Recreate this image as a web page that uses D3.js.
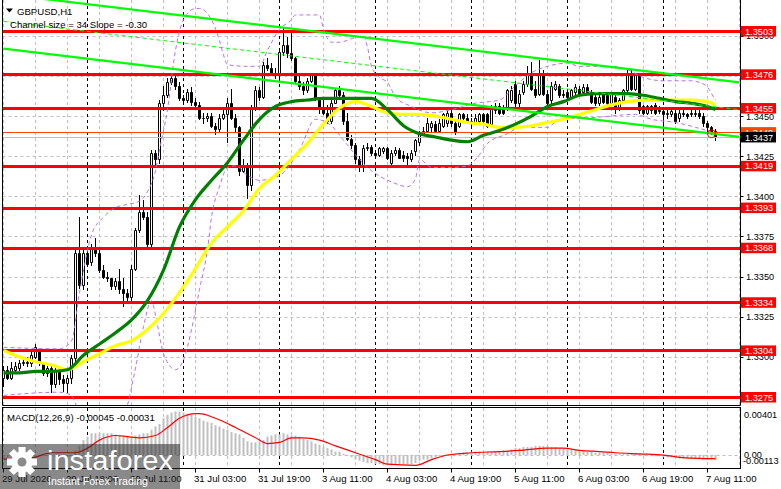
<!DOCTYPE html>
<html><head><meta charset="utf-8">
<script src="https://cdn.jsdelivr.net/npm/d3@7"></script>
<style>
body{margin:0;background:#fff;overflow:hidden}
svg{display:block}
text{font-family:"Liberation Sans",Arial,sans-serif}
</style>
</head><body>
<svg id="chart" width="781" height="489"></svg>
<script>
// ---------- DATA ----------
const symbolTitle = "GBPUSD,H1";
const channelTitle = "Channel size = 34 Slope = -0.30";
const macdTitle = "MACD(12,26,9) -0.00045 -0.00031";

const opens = [1.3287,1.3292,1.3287,1.3292,1.3293,1.3296,1.3297,1.3296,1.3300,1.3304,
1.3296,1.3290,1.3293,1.3283,1.3291,1.3286,1.3284,1.3287,1.3299,1.3365,
1.3345,1.3365,1.3359,1.3368,1.3365,1.3354,1.3350,1.3349,1.3344,1.3347,
1.3342,1.3340,1.3337,1.3355,1.3379,1.3390,1.3387,1.3370,1.3427,1.3423,
1.3458,1.3463,1.3471,1.3474,1.3469,1.3461,1.3460,1.3465,1.3459,1.3457,
1.3449,1.3449,1.3450,1.3444,1.3442,1.3449,1.3451,1.3458,1.3449,1.3443,
1.3416,1.3418,1.3407,1.3455,1.3466,1.3462,1.3482,1.3480,1.3477,1.3476,
1.3490,1.3494,1.3489,1.3486,1.3472,1.3469,1.3466,1.3472,1.3476,1.3461,
1.3455,1.3452,1.3447,1.3458,1.3466,1.3463,1.3447,1.3436,1.3432,1.3423,
1.3418,1.3430,1.3431,1.3427,1.3426,1.3428,1.3430,1.3421,1.3427,1.3429,
1.3426,1.3425,1.3423,1.3428,1.3434,1.3439,1.3441,1.3443,1.3445,1.3441,
1.3444,1.3446,1.3452,1.3446,1.3444,1.3451,1.3449,1.3447,1.3446,1.3447,
1.3451,1.3451,1.3445,1.3454,1.3456,1.3455,1.3455,1.3460,1.3470,1.3458,
1.3465,1.3470,1.3477,1.3467,1.3464,1.3477,1.3464,1.3460,1.3467,1.3469,
1.3464,1.3465,1.3462,1.3465,1.3467,1.3465,1.3468,1.3465,1.3462,1.3458,
1.3464,1.3463,1.3458,1.3462,1.3455,1.3460,1.3466,1.3477,1.3467,1.3476,
1.3456,1.3452,1.3456,1.3457,1.3454,1.3453,1.3451,1.3451,1.3452,1.3449,
1.3452,1.3451,1.3452,1.3451,1.3452,1.3450,1.3446,1.3443,1.3441];

const highs = [1.3294,1.3294,1.3297,1.3297,1.3298,1.3299,1.3300,1.3303,1.3308,1.3305,
1.3297,1.3294,1.3294,1.3293,1.3293,1.3289,1.3289,1.3301,1.3367,1.3387,
1.3367,1.3367,1.3370,1.3374,1.3367,1.3357,1.3353,1.3349,1.3349,1.3355,
1.3349,1.3342,1.3357,1.3380,1.3401,1.3398,1.3390,1.3429,1.3429,1.3460,
1.3469,1.3474,1.3476,1.3477,1.3471,1.3463,1.3467,1.3468,1.3461,1.3459,
1.3452,1.3452,1.3452,1.3446,1.3451,1.3455,1.3461,1.3467,1.3451,1.3444,
1.3423,1.3421,1.3457,1.3469,1.3468,1.3484,1.3486,1.3483,1.3480,1.3492,
1.3505,1.3499,1.3502,1.3487,1.3475,1.3471,1.3474,1.3477,1.3477,1.3462,
1.3461,1.3457,1.3460,1.3467,1.3469,1.3465,1.3452,1.3438,1.3433,1.3425,
1.3432,1.3433,1.3432,1.3429,1.3431,1.3431,1.3431,1.3429,1.3431,1.3430,
1.3428,1.3427,1.3429,1.3436,1.3441,1.3443,1.3449,1.3447,1.3447,1.3448,
1.3452,1.3455,1.3454,1.3447,1.3452,1.3452,1.3451,1.3449,1.3451,1.3452,
1.3452,1.3452,1.3457,1.3458,1.3458,1.3457,1.3467,1.3469,1.3472,1.3466,
1.3472,1.3481,1.3484,1.3472,1.3485,1.3479,1.3466,1.3471,1.3472,1.3470,
1.3466,1.3467,1.3467,1.3470,1.3469,1.3470,1.3470,1.3466,1.3464,1.3463,
1.3465,1.3464,1.3465,1.3463,1.3461,1.3467,1.3480,1.3479,1.3477,1.3477,
1.3457,1.3457,1.3457,1.3458,1.3456,1.3455,1.3454,1.3455,1.3454,1.3454,
1.3454,1.3452,1.3454,1.3455,1.3455,1.3452,1.3447,1.3444,1.3442];

const lows = [1.3282,1.3286,1.3286,1.3291,1.3292,1.3295,1.3294,1.3294,1.3299,1.3295,
1.3289,1.3288,1.3278,1.3281,1.3283,1.3279,1.3278,1.3284,1.3297,1.3343,
1.3342,1.3357,1.3357,1.3363,1.3353,1.3349,1.3347,1.3342,1.3342,1.3340,
1.3332,1.3335,1.3335,1.3354,1.3378,1.3386,1.3367,1.3368,1.3420,1.3421,
1.3454,1.3462,1.3470,1.3467,1.3460,1.3459,1.3459,1.3457,1.3455,1.3448,
1.3446,1.3447,1.3443,1.3439,1.3441,1.3448,1.3434,1.3448,1.3441,1.3413,
1.3415,1.3399,1.3404,1.3454,1.3460,1.3461,1.3479,1.3476,1.3474,1.3474,
1.3488,1.3487,1.3485,1.3471,1.3467,1.3464,1.3465,1.3471,1.3460,1.3452,
1.3451,1.3446,1.3446,1.3458,1.3462,1.3445,1.3435,1.3430,1.3421,1.3416,
1.3416,1.3429,1.3426,1.3425,1.3425,1.3427,1.3423,1.3420,1.3426,1.3424,
1.3422,1.3419,1.3422,1.3426,1.3432,1.3438,1.3440,1.3441,1.3440,1.3440,
1.3443,1.3444,1.3444,1.3439,1.3443,1.3447,1.3446,1.3444,1.3445,1.3446,
1.3446,1.3443,1.3444,1.3452,1.3451,1.3451,1.3454,1.3459,1.3455,1.3456,
1.3464,1.3469,1.3466,1.3462,1.3463,1.3463,1.3457,1.3458,1.3466,1.3462,
1.3462,1.3461,1.3461,1.3464,1.3463,1.3464,1.3464,1.3458,1.3457,1.3457,
1.3458,1.3456,1.3457,1.3452,1.3454,1.3459,1.3465,1.3466,1.3466,1.3452,
1.3451,1.3451,1.3452,1.3451,1.3452,1.3441,1.3449,1.3450,1.3446,1.3447,
1.3450,1.3449,1.3450,1.3450,1.3449,1.3444,1.3441,1.3439,1.3435];

const closes = [1.3292,1.3287,1.3293,1.3294,1.3296,1.3297,1.3296,1.3301,1.3306,1.3296,
1.3290,1.3293,1.3283,1.3291,1.3286,1.3284,1.3287,1.3299,1.3365,1.3345,
1.3365,1.3358,1.3368,1.3365,1.3354,1.3350,1.3349,1.3344,1.3347,1.3342,
1.3340,1.3337,1.3355,1.3379,1.3390,1.3387,1.3370,1.3427,1.3423,1.3458,
1.3463,1.3471,1.3474,1.3469,1.3461,1.3460,1.3465,1.3459,1.3457,1.3449,
1.3449,1.3450,1.3444,1.3442,1.3449,1.3451,1.3458,1.3449,1.3443,1.3416,
1.3418,1.3407,1.3455,1.3466,1.3462,1.3482,1.3480,1.3477,1.3476,1.3490,
1.3494,1.3489,1.3486,1.3472,1.3469,1.3466,1.3472,1.3476,1.3461,1.3455,
1.3452,1.3447,1.3458,1.3466,1.3463,1.3447,1.3436,1.3432,1.3423,1.3418,
1.3430,1.3431,1.3427,1.3426,1.3430,1.3430,1.3424,1.3427,1.3429,1.3424,
1.3424,1.3424,1.3427,1.3435,1.3439,1.3441,1.3446,1.3446,1.3441,1.3446,
1.3451,1.3452,1.3446,1.3440,1.3451,1.3449,1.3447,1.3446,1.3449,1.3451,
1.3447,1.3444,1.3455,1.3456,1.3452,1.3452,1.3466,1.3466,1.3458,1.3464,
1.3470,1.3477,1.3467,1.3463,1.3477,1.3464,1.3458,1.3469,1.3470,1.3463,
1.3463,1.3462,1.3466,1.3468,1.3464,1.3468,1.3465,1.3459,1.3458,1.3462,
1.3459,1.3458,1.3464,1.3455,1.3460,1.3466,1.3477,1.3467,1.3476,1.3454,
1.3452,1.3456,1.3454,1.3452,1.3453,1.3451,1.3452,1.3453,1.3447,1.3452,
1.3451,1.3450,1.3451,1.3452,1.3450,1.3446,1.3443,1.3440,1.3437];

// moving averages, read every 4 bars
const maBars = [0,4,8,12,16,20,24,28,32,36,40,44,48,52,56,60,64,68,72,76,80,84,88,92,96,100,104,108,112,116,120,124,128,132,136,140,144,148,152,156,160,164,168,172,176,178];
const maGreen = [1.3290,1.3290,1.3291,1.3291,1.3292,1.3301,1.3308,1.3315,1.3323,1.3335,
1.3354,1.3381,1.3398,1.3410,1.3421,1.3435,1.3448,1.3456,1.3459,1.3460,
1.3461,1.3461,1.3461,1.3461,1.3454,1.3444,1.3439,1.3437,1.3435,1.3434,
1.3438,1.3441,1.3445,1.3450,1.3456,1.3459,1.3463,1.3464,1.3464,1.3464,
1.3463,1.3461,1.3459,1.3458,1.3456,1.3454];
const maYellow = [1.3304,1.3300,1.3297,1.3295,1.3292,1.3297,1.3302,1.3307,1.3310,1.3317,
1.3327,1.3340,1.3355,1.3371,1.3381,1.3391,1.3405,1.3413,1.3423,1.3433,
1.3445,1.3455,1.3459,1.3456,1.3452,1.3451,1.3451,1.3450,1.3448,1.3446,
1.3445,1.3443,1.3443,1.3444,1.3446,1.3448,1.3451,1.3454,1.3457,1.3459,
1.3460,1.3460,1.3460,1.3460,1.3459,1.3457];

// envelope bands (violet dotted)
const bandUpperBars = [0,14,17,19,22,25,28,31,34,36,38,39,41,43,45,48,49,52,54,55,56,61,64,66,69,72,73,79,80,82,84,88,90,91,92,94,96,98,102,107,112,118,124,128,132,136,141,144,152,156,160,165,172,174,176,177,178];
const bandUpper = [1.3306,1.3305,1.3310,1.3340,1.3376,1.3387,1.3393,1.3395,1.3397,1.3403,
1.3416,1.3429,1.3454,1.3491,1.3510,1.3517,1.3517,1.3510,1.3497,1.3488,
1.3482,1.3481,1.3481,1.3491,1.3504,1.3510,1.3513,1.3513,1.3504,1.3496,
1.3496,1.3499,1.3500,1.3493,1.3481,1.3474,1.3471,1.3462,1.3456,1.3452,
1.3454,1.3458,1.3460,1.3469,1.3477,1.3481,1.3483,1.3481,1.3481,1.3479,
1.3474,1.3472,1.3472,1.3471,1.3468,1.3464,1.3460];
const bandLowerBars = [0,14,17,19,30,31,33,35,37,38,40,43,45,47,49,51,52,54,56,58,61,64,69,74,78,82,85,89,92,97,101,103,104,107,112,116,119,121,126,129,136,139,147,158,162,168,173,177,178];
const bandLower = [1.3276,1.3278,1.3276,1.3266,1.3261,1.3270,1.3293,1.3319,1.3335,1.3326,
1.3302,1.3292,1.3298,1.3317,1.3342,1.3367,1.3387,1.3406,1.3418,1.3419,
1.3413,1.3410,1.3413,1.3429,1.3448,1.3444,1.3435,1.3423,1.3416,1.3409,
1.3406,1.3411,1.3423,1.3418,1.3418,1.3419,1.3426,1.3433,1.3439,1.3443,
1.3443,1.3448,1.3449,1.3451,1.3448,1.3446,1.3443,1.3440,1.3439];

// MACD histogram (one per bar) and signal line
const macdMain = [-0.0003,-0.0003,-0.0002,-0.0002,-0.0002,-0.0001,-0.0001,-0.0001,0,0,
0,-0.0001,-0.0001,-0.0002,-0.0002,-0.0002,-0.0002,-0.0001,0.0004,0.0008,
0.0013,0.0016,0.0019,0.0019,0.0019,0.0019,0.0019,0.0019,0.0018,0.0017,
0.0016,0.0016,0.0016,0.0017,0.0018,0.0019,0.0019,0.0022,0.0025,0.0027,
0.0032,0.0035,0.0037,0.0038,0.0038,0.0037,0.0036,0.0035,0.0033,0.0032,
0.0030,0.0029,0.0028,0.0026,0.0025,0.0023,0.0022,0.0020,0.0019,0.0018,
0.0015,0.0012,0.0011,0.0011,0.0012,0.0013,0.0016,0.0017,0.0018,0.0018,
0.0019,0.0018,0.0017,0.0017,0.0016,0.0014,0.0013,0.0012,0.0010,0.0009,
0.0007,0.0006,0.0005,0.0003,0.0003,0.0001,-0.0001,-0.0002,-0.0004,-0.0005,
-0.0006,-0.0007,-0.0007,-0.0008,-0.0008,-0.0009,-0.0009,-0.0009,-0.0008,-0.0008,
-0.0008,-0.0008,-0.0008,-0.0007,-0.0005,-0.0004,-0.0004,-0.0003,-0.0002,-0.0001,
-0.0001,0,0.0001,0.0001,0.0002,0.0002,0.0002,0.0003,0.0003,0.0003,
0.0003,0.0003,0.0003,0.0003,0.0003,0.0004,0.0004,0.0005,0.0006,0.0006,
0.0007,0.0007,0.0007,0.0008,0.0008,0.0008,0.0008,0.0007,0.0007,0.0006,
0.0006,0.0005,0.0005,0.0004,0.0003,0.0003,0.0003,0.0003,0.0002,0.0002,
0.0002,0.0002,0.0001,0.0001,0.0001,0.0001,0.0001,0.0002,0.0002,0.0001,
0,0,-0.0001,-0.0001,-0.0001,-0.0002,-0.0002,-0.0002,-0.0002,-0.0003,
-0.0003,-0.0003,-0.0003,-0.0003,-0.0003,-0.0004,-0.0004,-0.0004,-0.00045];
const macdSignalBars = [0,7,12,18,21,24,28,31,34,38,41,44,48,49,53,58,63,66,69,72,75,79,83,88,93,96,103,107,111,117,124,129,136,140,144,149,153,159,165,169,174,178];
const macdSignal = [-0.00035,-0.00025,0.0002,0.0002,0.0006,0.0013,0.0017,0.0016,0.0015,0.0017,
0.0024,0.0032,0.0036,0.0036,0.0032,0.0024,0.0015,0.0010,0.0011,0.0015,
0.0015,0.0013,0.0008,0.0002,-0.0004,-0.0008,-0.0009,-0.0004,0,0.0002,
0.0003,0.0004,0.0006,0.0006,0.0004,0.0003,0.0002,0.0001,0,-0.0002,
-0.0003,-0.00031];
const macdScaleLabels = ["0.00401","0.00","-0.00113"];

// horizontal levels
const levels = [1.3503,1.3476,1.3455,1.3419,1.3393,1.3368,1.3334,1.3304,1.3275];
const orangeLevel = 1.3440;
const bidPrice = 1.3437;
const priceTicks = [1.3500,1.3475,1.3450,1.3425,1.3400,1.3375,1.3350,1.3325,1.3300,1.3275];

// channel
const channelBars = [0,184];
const channelUpper = [1.3526,1.3471];
const channelSize = 0.0034;

// time axis
const timeLabelBars = [0,16,32,48,64,80,96,112,128,144,160,176];
const timeLabels = ["29 Jul 2026","29 Jul 18:00","30 Jul 11:00","31 Jul 03:00","31 Jul 19:00","3 Aug 11:00","4 Aug 03:00","4 Aug 19:00","5 Aug 11:00","6 Aug 03:00","6 Aug 19:00","7 Aug 11:00"];
const daySeparatorBars = [21,45,69,93,117,141,165];
const markerBar = 177, markerPrice = 1.3439;

// ---------- DRAWING ----------
const svg = d3.select("#chart");
const L = 2.5, R = 740.5, mainTop = 0, mainBot = 405.5, macdTop = 407.5, macdBot = 468.5;
const xs = d3.scaleLinear().domain([0,184]).range([3.5,739.5]);
const ys = d3.scaleLinear().domain([1.3275,1.3503]).range([397,31]);
const ym = d3.scaleLinear().domain([-0.00113,0.00401]).range([468,409]);
const crisp = v => Math.round(v)+0.5;

const defs = svg.append("defs");
defs.append("clipPath").attr("id","clipMain").append("rect").attr("x",3).attr("y",0).attr("width",737).attr("height",405);
defs.append("clipPath").attr("id","clipMacd").append("rect").attr("x",3).attr("y",408).attr("width",737).attr("height",60);

const main = svg.append("g").attr("clip-path","url(#clipMain)");
const macd = svg.append("g").attr("clip-path","url(#clipMacd)");

// grid
const gridBars = d3.range(0,185,8);
[ [main,0,405], [macd,408,468] ].forEach(([g,y0,y1])=>{
  g.selectAll(null).data(gridBars).join("line")
    .attr("x1",d=>crisp(xs(d)-0.5)).attr("x2",d=>crisp(xs(d)-0.5)).attr("y1",y0).attr("y2",y1)
    .attr("stroke","#c0c0c0").attr("stroke-dasharray","3,3");
});
main.selectAll(null).data(priceTicks).join("line")
  .attr("x1",L).attr("x2",R).attr("y1",d=>crisp(ys(d))).attr("y2",d=>crisp(ys(d)))
  .attr("stroke","#c0c0c0").attr("stroke-dasharray","3,3");
macd.append("line").attr("x1",L).attr("x2",R).attr("y1",crisp(ym(0))).attr("y2",crisp(ym(0)))
  .attr("stroke","#c0c0c0").attr("stroke-dasharray","3,3");

// day separators
[ [main,0,405], [macd,408,468] ].forEach(([g,y0,y1])=>{
  g.selectAll(null).data(daySeparatorBars).join("line")
    .attr("x1",d=>crisp(xs(d)-0.5)).attr("x2",d=>crisp(xs(d)-0.5)).attr("y1",y0).attr("y2",y1)
    .attr("stroke","#000").attr("stroke-dasharray","3,3");
});

// candles
const bars = d3.range(closes.length);
main.selectAll(null).data(bars).join("line")
  .attr("x1",i=>xs(i)).attr("x2",i=>xs(i))
  .attr("y1",i=>Math.round(ys(highs[i]))).attr("y2",i=>Math.round(ys(lows[i]))+1)
  .attr("stroke","#000");
main.selectAll(null).data(bars).join("path")
  .attr("d",i=>{
    const t = Math.round(ys(Math.max(opens[i],closes[i])))+0.5;
    const b = Math.round(ys(Math.min(opens[i],closes[i])))+0.5;
    const x0 = xs(i)-1;
    return `M${x0},${t}h2V${b}h-2Z`;
  })
  .attr("fill",i=>closes[i]>=opens[i]?"#fff":"#000")
  .attr("stroke","#000");

// red levels
main.selectAll(null).data(levels).join("line")
  .attr("x1",L).attr("x2",R).attr("y1",d=>crisp(ys(d))).attr("y2",d=>crisp(ys(d)))
  .attr("stroke","#ff0000").attr("stroke-width",3);
main.append("line").attr("x1",L).attr("x2",R).attr("y1",crisp(ys(orangeLevel))).attr("y2",crisp(ys(orangeLevel)))
  .attr("stroke","#ff4500");
main.append("line").attr("x1",L).attr("x2",R).attr("y1",crisp(ys(bidPrice))).attr("y2",crisp(ys(bidPrice)))
  .attr("stroke","#c0c0c0");

// bands
const bandLine = d3.line().x(d=>xs(d[0])).y(d=>ys(d[1])).curve(d3.curveMonotoneX);
[[bandUpperBars,bandUpper],[bandLowerBars,bandLower]].forEach(([b,v])=>{
  main.append("path").attr("d",bandLine(b.map((d,k)=>[d,v[k]])))
    .attr("fill","none").attr("stroke","#bb6fe8").attr("stroke-width",1).attr("stroke-dasharray","4,3");
});

// moving averages
const maLine = d3.line().x(d=>xs(d[0])).y(d=>ys(d[1])).curve(d3.curveMonotoneX);
main.append("path").attr("d",maLine(maBars.map((d,k)=>[d,maYellow[k]])))
  .attr("fill","none").attr("stroke","#ffff00").attr("stroke-width",3.2);
main.append("path").attr("d",maLine(maBars.map((d,k)=>[d,maGreen[k]])))
  .attr("fill","none").attr("stroke","#008000").attr("stroke-width",3.2);

// channel
const chLine = d3.line().x(d=>xs(d[0])).y(d=>ys(d[1]));
const chUpper = channelBars.map((b,k)=>[b,channelUpper[k]]);
const chLower = channelBars.map((b,k)=>[b,channelUpper[k]-channelSize]);
const chMid = channelBars.map((b,k)=>[b,channelUpper[k]-channelSize/2]);
main.append("path").attr("d",chLine(chUpper)).attr("stroke","#00ff00").attr("stroke-width",2.2).attr("fill","none");
main.append("path").attr("d",chLine(chLower)).attr("stroke","#00ff00").attr("stroke-width",2.2).attr("fill","none");
main.append("path").attr("d",chLine(chMid)).attr("stroke","#00ff00").attr("stroke-width",1).attr("stroke-dasharray","4,3").attr("fill","none");

// marker circle
main.append("circle").attr("cx",xs(markerBar)).attr("cy",ys(markerPrice)).attr("r",4)
  .attr("fill","none").attr("stroke","#ff0000").attr("stroke-width",1);

// MACD histogram + signal
macd.selectAll(null).data(bars).join("rect")
  .attr("x",i=>xs(i)-1).attr("width",2)
  .attr("y",i=>Math.min(ym(macdMain[i]),ym(0)))
  .attr("height",i=>Math.max(Math.abs(ym(macdMain[i])-ym(0)),0.6))
  .attr("fill","#c0c0c0");
macd.append("path").attr("d",d3.line().x(d=>xs(d[0])).y(d=>ym(d[1])).curve(d3.curveMonotoneX)(macdSignalBars.map((b,k)=>[b,macdSignal[k]])))
  .attr("fill","none").attr("stroke","#ff0000").attr("stroke-width",1.2);

// frames
svg.append("line").attr("x1",L).attr("x2",L).attr("y1",0).attr("y2",mainBot).attr("stroke","#000");
svg.append("line").attr("x1",R).attr("x2",R).attr("y1",0).attr("y2",mainBot).attr("stroke","#000");
svg.append("line").attr("x1",L).attr("x2",R).attr("y1",mainBot).attr("y2",mainBot).attr("stroke","#000");
svg.append("rect").attr("x",L).attr("y",macdTop).attr("width",R-L).attr("height",macdBot-macdTop).attr("fill","none").attr("stroke","#000");

// titles
svg.append("path").attr("d","M6,8.5L13,8.5L9.5,12.5Z").attr("fill","#000");
svg.append("text").attr("x",17).attr("y",14.5).attr("font-size",9.6).text(symbolTitle);
svg.append("text").attr("x",10).attr("y",28).attr("font-size",9.6).text(channelTitle);
svg.append("text").attr("x",7).attr("y",420.5).attr("font-size",9.6).text(macdTitle);

// price axis labels
const fmt = d3.format(".4f");
svg.selectAll(null).data(priceTicks).join("text")
  .attr("x",746).attr("y",d=>ys(d)+3.5).attr("font-size",9.2).attr("fill","#000").text(d=>fmt(d));
svg.selectAll(null).data(priceTicks).join("line")
  .attr("x1",R).attr("x2",R+3).attr("y1",d=>crisp(ys(d))).attr("y2",d=>crisp(ys(d))).attr("stroke","#000");
function priceBox(v,color){
  const yc = ys(v);
  svg.append("rect").attr("x",741).attr("y",yc-5).attr("width",35).attr("height",10.5).attr("fill",color);
  svg.append("text").attr("x",745).attr("y",yc+3.6).attr("font-size",9.2).attr("fill","#fff").text(fmt(v));
}
levels.forEach(v=>priceBox(v,"#ff0000"));
priceBox(orangeLevel,"#ff4500");
priceBox(bidPrice,"#000000");

// MACD scale labels
svg.append("text").attr("x",744).attr("y",417.5).attr("font-size",9.2).text(macdScaleLabels[0]);
svg.append("text").attr("x",744).attr("y",457.5).attr("font-size",9.2).text(macdScaleLabels[1]);
svg.append("text").attr("x",743).attr("y",464).attr("font-size",9.2).text(macdScaleLabels[2]);

// time axis
svg.selectAll(null).data(timeLabelBars).join("line")
  .attr("x1",d=>crisp(xs(d)-0.5)).attr("x2",d=>crisp(xs(d)-0.5)).attr("y1",macdBot).attr("y2",macdBot+4).attr("stroke","#000");
svg.selectAll(null).data(timeLabelBars).join("text")
  .attr("x",d=>xs(d)-1.5).attr("y",482).attr("font-size",9.6).text((d,k)=>timeLabels[k]);

// watermark
const wm = svg.append("g");
wm.append("rect").attr("x",0).attr("y",444).attr("width",180).attr("height",45).attr("fill","rgba(40,40,40,0.55)");
const gc = [22,462];
const gear = wm.append("g").attr("transform",`translate(${gc[0]},${gc[1]})`);
d3.range(8).forEach(k=>{
  gear.append("rect").attr("x",-3.5).attr("y",-15).attr("width",7).attr("height",8).attr("fill","#fff")
    .attr("transform",`rotate(${k*45})`);
});
gear.append("circle").attr("r",10.5).attr("fill","#fff");
gear.append("circle").attr("r",4.5).attr("fill","#8a8a8a");
wm.append("text").attr("x",47).attr("y",470).attr("font-size",27).attr("fill","#fff")
  .attr("textLength",126).attr("lengthAdjust","spacingAndGlyphs").text("instaforex");
wm.append("text").attr("x",48).attr("y",485).attr("font-size",11.5).attr("fill","#fff")
  .attr("textLength",100).attr("lengthAdjust","spacingAndGlyphs").text("Instant Forex Trading");
</script>
</body></html>
